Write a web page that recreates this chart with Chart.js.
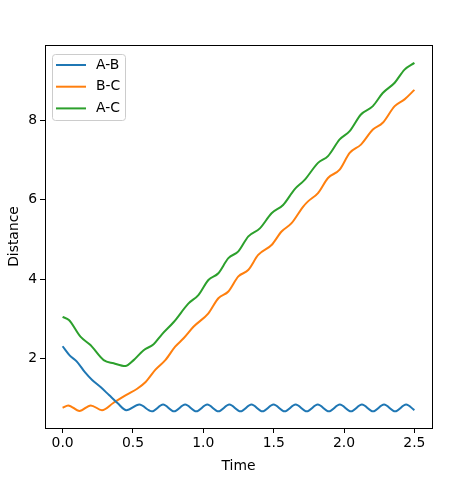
<!DOCTYPE html>
<html>
<head>
<meta charset="utf-8">
<script src="https://cdn.jsdelivr.net/npm/chart.js@4.4.0/dist/chart.umd.min.js"></script>
<style>
  html, body { margin: 0; padding: 0; background: #fff; }
</style>
</head>
<body>
<canvas id="chart" width="451" height="479"></canvas>
<script>
// values
const abTime = [0, 0.05, 0.1, 0.16, 0.21, 0.27, 0.33, 0.39, 0.453, 0.545, 0.635, 0.714, 0.792, 0.871, 0.95, 1.028, 1.107, 1.185, 1.264, 1.342, 1.42, 1.499, 1.578, 1.656, 1.735, 1.813, 1.892, 1.97, 2.049, 2.127, 2.206, 2.284, 2.363, 2.441, 2.5];
const abDist = [2.31, 2.08, 1.93, 1.65, 1.46, 1.28, 1.08, 0.88, 0.70, 0.84, 0.67, 0.84, 0.67, 0.84, 0.67, 0.84, 0.67, 0.84, 0.67, 0.84, 0.67, 0.84, 0.67, 0.84, 0.67, 0.84, 0.67, 0.84, 0.67, 0.84, 0.67, 0.84, 0.67, 0.84, 0.70];

const bcTime = [0, 0.04, 0.12, 0.2, 0.28, 0.36, 0.45, 0.53, 0.59, 0.66, 0.73, 0.8, 0.86, 0.93, 1.036, 1.107, 1.178, 1.249, 1.319, 1.39, 1.485, 1.556, 1.627, 1.71, 1.744, 1.815, 1.886, 1.969, 2.04, 2.12, 2.205, 2.275, 2.36, 2.43, 2.5];
const bcDist = [0.76, 0.82, 0.68, 0.82, 0.70, 0.88, 1.08, 1.24, 1.41, 1.72, 1.96, 2.30, 2.51, 2.80, 3.14, 3.52, 3.69, 4.07, 4.23, 4.61, 4.86, 5.20, 5.41, 5.83, 5.96, 6.17, 6.55, 6.76, 7.18, 7.39, 7.77, 7.94, 8.36, 8.53, 8.77];

const acTime = [0, 0.045, 0.127, 0.198, 0.292, 0.363, 0.446, 0.505, 0.576, 0.647, 0.706, 0.79, 0.895, 0.965, 1.036, 1.107, 1.178, 1.249, 1.32, 1.402, 1.485, 1.567, 1.65, 1.72, 1.815, 1.886, 1.969, 2.04, 2.12, 2.205, 2.275, 2.36, 2.43, 2.5];
const acDist = [3.05, 2.97, 2.55, 2.34, 1.96, 1.88, 1.81, 1.96, 2.21, 2.36, 2.61, 2.92, 3.39, 3.60, 3.98, 4.15, 4.53, 4.70, 5.08, 5.28, 5.66, 5.87, 6.27, 6.50, 6.93, 7.10, 7.52, 7.73, 8.15, 8.36, 8.69, 8.95, 9.28, 9.45];

const xTicks = [0, 0.5, 1, 1.5, 2, 2.5];
const yTicks = [2, 4, 6, 8];

const FONT = '"DejaVu Sans", sans-serif';
const toPoints = (xs, ys) => xs.map((x, i) => ({ x, y: ys[i] }));

// matplotlib-like frame + legend box drawn on top
const frame = {
  id: 'frame',
  afterDraw(chart) {
    const { ctx, chartArea: a } = chart;
    ctx.save();
    ctx.strokeStyle = '#000';
    ctx.lineWidth = 1;
    ctx.strokeRect(Math.round(a.left) + 0.5, Math.round(a.top) + 0.5,
      Math.round(a.right - a.left), Math.round(a.bottom - a.top));

    // legend
    const lx = 52.5, ly = 54.5, lw = 73, lh = 66;
    ctx.beginPath();
    ctx.roundRect(lx, ly, lw, lh, 3);
    ctx.fillStyle = 'rgba(255,255,255,0.8)';
    ctx.fill();
    ctx.strokeStyle = '#cccccc';
    ctx.stroke();
    ctx.font = '13.9px ' + FONT;
    ctx.textBaseline = 'middle';
    chart.data.datasets.forEach((ds, i) => {
      const y = 65 + i * 21.7;
      ctx.beginPath();
      ctx.moveTo(56, y);
      ctx.lineTo(86, y);
      ctx.strokeStyle = ds.borderColor;
      ctx.lineWidth = 2;
      ctx.stroke();
      ctx.fillStyle = '#000';
      ctx.fillText(ds.label, 96, y);
    });
    ctx.restore();
  },
};

new Chart(document.getElementById('chart').getContext('2d'), {
  type: 'line',
  data: {
    datasets: [
      { label: 'A-B', data: toPoints(abTime, abDist), borderColor: '#1f77b4' },
      { label: 'B-C', data: toPoints(bcTime, bcDist), borderColor: '#ff7f0e' },
      { label: 'A-C', data: toPoints(acTime, acDist), borderColor: '#2ca02c' },
    ],
  },
  options: {
    responsive: false,
    animation: false,
    devicePixelRatio: 1,
    layout: { padding: { left: 0, top: 45, right: 19, bottom: 0 } },
    elements: {
      point: { radius: 0 },
      line: { borderWidth: 2, cubicInterpolationMode: 'monotone', fill: false },
    },
    plugins: { legend: { display: false }, tooltip: { enabled: false } },
    scales: {
      x: {
        type: 'linear',
        min: -0.125,
        max: 2.625,
        afterBuildTicks: (scale) => { scale.ticks = xTicks.map(v => ({ value: v })); },
        afterFit: (scale) => { scale.height = 51; },
        ticks: {
          color: '#000',
          padding: 2,
          maxRotation: 0,
          font: { family: FONT, size: 13.9 },
          callback: v => v.toFixed(1),
        },
        grid: { drawOnChartArea: false, color: '#000', tickLength: 5 },
        border: { color: '#000' },
        title: { display: true, text: 'Time', color: '#000', font: { family: FONT, size: 13.9 }, padding: { top: 2, bottom: 4 } },
      },
      y: {
        type: 'linear',
        min: 0.25,
        max: 9.9,
        afterBuildTicks: (scale) => { scale.ticks = yTicks.map(v => ({ value: v })); },
        afterFit: (scale) => { scale.width = 45; },
        ticks: {
          color: '#000',
          padding: 3,
          font: { family: FONT, size: 13.9 },
        },
        grid: { drawOnChartArea: false, color: '#000', tickLength: 5 },
        border: { color: '#000' },
        title: { display: true, text: 'Distance', color: '#000', font: { family: FONT, size: 13.9 }, padding: { top: 6, bottom: 2 } },
      },
    },
  },
  plugins: [frame],
});
</script>
</body>
</html>
